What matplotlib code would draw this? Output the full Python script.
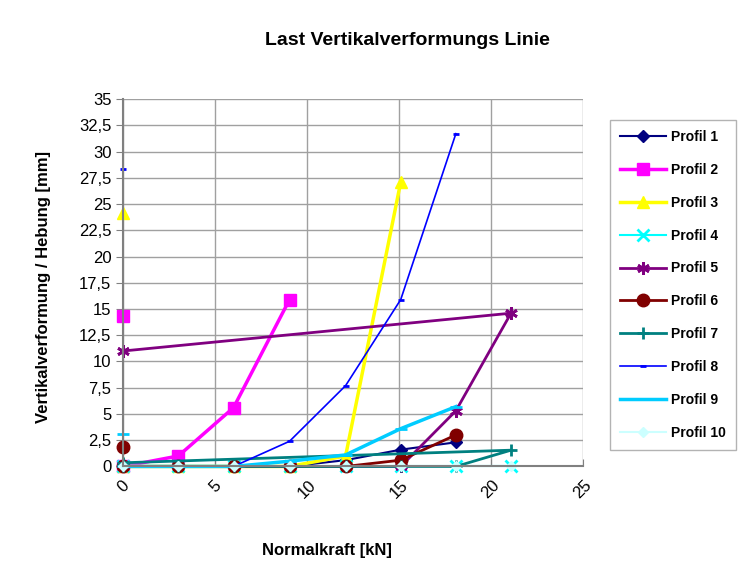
import numpy as np
import matplotlib
matplotlib.use("Agg")
import matplotlib.pyplot as plt
from matplotlib.ticker import FuncFormatter, MultipleLocator

plt.rcParams['font.family'] = ['Liberation Sans', 'DejaVu Sans']

PLOT_TITLE = "Last Vertikalverformungs Linie"
PLOT_XLABEL = "Normalkraft [kN]"
PLOT_YLABEL = "Vertikalverformung / Hebung [mm]"

# load steps (kN)
LOADS = [0, 3.0, 6.0, 9.05, 12.1, 15.1, 18.1, 21.1]
LOADS_BACK = [0, 21.1, 18.1, 15.1, 12.1, 9.05, 6.0, 3.0, 0]

# each profile: main line plus (optionally) a lone start value plotted at x = 0
p1_x = LOADS[:7]
p1_y = [0, 0, 0, 0, 0.6, 1.6, 2.3]
p2_x = LOADS[:4]
p2_y = [0, 1.0, 5.6, 15.9]
p2_start = 14.3
p3_x = LOADS[:6]
p3_y = [0, 0, 0, 0, 1.0, 27.1]
p3_start = 24.1
p4_x = LOADS
p4_y = [0, 0, 0, 0, 0, 0, 0, 0]
p5_x = LOADS_BACK
p5_y = [11.0, 14.6, 5.3, 0, 0, 0, 0, 0, 0]
p6_x = LOADS[:7]
p6_y = [0, 0, 0, 0, 0, 0.6, 3.0]
p6_start = 1.9
p7_x = LOADS_BACK
p7_y = [0.35, 1.55, 0, 0, 0, 0, 0, 0, 0]
p8_x = LOADS[:7]
p8_y = [0, 0, 0, 2.4, 7.7, 15.9, 31.7]
p8_start = 28.3
p9_x = LOADS[:7]
p9_y = [0, 0, 0, 0.5, 1.1, 3.6, 5.7]
p9_start = 3.1
p10_x = LOADS
p10_y = [0, 0, 0, 0, 0, 0, 0, 0]

SERIES = [
  ("Profil 1", p1_x, p1_y, None, "#000080", "D", 6, 1.5),
  ("Profil 2", p2_x, p2_y, p2_start, "#ff00ff", "s", 9, 2.5),
  ("Profil 3", p3_x, p3_y, p3_start, "#ffff00", "^", 9, 2.5),
  ("Profil 4", p4_x, p4_y, None, "#00ffff", "x", 8, 1.5),
  ("Profil 5", p5_x, p5_y, None, "#800080", (6, 2, 0), 9, 2.0),
  ("Profil 6", p6_x, p6_y, p6_start, "#800000", "o", 9, 2.0),
  ("Profil 7", p7_x, p7_y, None, "#008080", "+", 9, 2.0),
  ("Profil 8", p8_x, p8_y, p8_start, "#0000ff", "_", 5, 1.2),
  ("Profil 9", p9_x, p9_y, p9_start, "#00ccff", "_", 9, 2.5),
  ("Profil 10", p10_x, p10_y, None, "#ccffff", "D", 5, 1.5),
]

fig = plt.figure(figsize=(7.47, 5.86), dpi=100)
ax = fig.add_axes([0.165, 0.204, 0.615, 0.627])

handles = []
for name, xs, ys, start, color, marker, msize, lw in SERIES:
  mew = 2.0 if marker in ("_", "+", "x") or isinstance(marker, tuple) else 1.0
  h, = ax.plot(xs, ys, color=color, marker=marker, markersize=msize, lw=lw,
               markeredgewidth=mew, label=name, clip_on=False)
  if start is not None:
    ax.plot([0], [start], color=color, marker=marker, markersize=msize, ls="none",
            markeredgewidth=mew, clip_on=False)
  handles.append(h)

ax.set_xlim(0, 25)
ax.set_ylim(0, 35)
ax.xaxis.set_major_locator(MultipleLocator(5))
ax.yaxis.set_major_locator(MultipleLocator(2.5))
ax.yaxis.set_major_formatter(FuncFormatter(lambda v, p: ("%g" % v).replace(".", ",")))
ax.grid(True, color="#a0a0a0", lw=1.0)
ax.set_axisbelow(True)
for s in ("top", "right"):
  ax.spines[s].set_visible(False)
for s in ("left", "bottom"):
  ax.spines[s].set_color("#808080")
  ax.spines[s].set_linewidth(1.5)
ax.tick_params(axis="both", labelsize=12, color="#808080", length=5)
ax.tick_params(axis="x", direction="in", pad=8)
plt.setp(ax.get_xticklabels(), rotation=45, ha="center", va="top")

fig.text(0.545, 0.931, PLOT_TITLE, ha="center", va="center", fontsize=14, fontweight="bold")
fig.text(0.438, 0.060, PLOT_XLABEL, ha="center", va="center", fontsize=12, fontweight="bold")
fig.text(0.058, 0.51, PLOT_YLABEL, ha="center", va="center", rotation=90,
         fontsize=12, fontweight="bold")

leg = fig.legend(handles=handles, loc="upper left", bbox_to_anchor=(0.8166, 0.795),
                 borderaxespad=0, fontsize=10, frameon=True, fancybox=False,
                 borderpad=0.7, labelspacing=1.36, handlelength=3.3, handletextpad=0.4)
leg.get_frame().set_edgecolor("#a0a0a0")
for t in leg.get_texts():
  t.set_fontweight("bold")

fig.savefig("out.png", dpi=100)
